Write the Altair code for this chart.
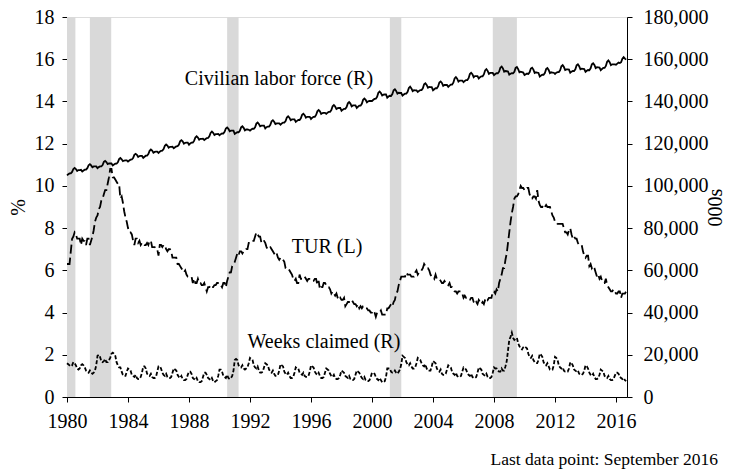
import altair as alt
import pandas as pd

FONT = "Liberation Serif"
START_YEAR = 1980

# Monthly values, Jan 1980 - Sep 2016 (one row per year)
tur_pct = [
    6.3, 6.3, 6.3, 6.9, 7.5, 7.6, 7.8, 7.7, 7.5, 7.5, 7.5, 7.2,
    7.5, 7.4, 7.4, 7.2, 7.5, 7.5, 7.2, 7.4, 7.6, 7.9, 8.3, 8.5,
    8.6, 8.9, 9.0, 9.3, 9.4, 9.6, 9.8, 9.8, 10.1, 10.4, 10.8, 10.8,
    10.4, 10.4, 10.3, 10.2, 10.1, 10.1, 9.4, 9.5, 9.2, 8.8, 8.5, 8.3,
    8.0, 7.8, 7.8, 7.7, 7.4, 7.2, 7.5, 7.5, 7.3, 7.4, 7.2, 7.3,
    7.3, 7.2, 7.2, 7.3, 7.2, 7.4, 7.4, 7.1, 7.1, 7.1, 7.0, 7.0,
    6.7, 7.2, 7.2, 7.1, 7.2, 7.2, 7.0, 6.9, 7.0, 7.0, 6.9, 6.6,
    6.6, 6.6, 6.6, 6.3, 6.3, 6.2, 6.1, 6.0, 5.9, 6.0, 5.8, 5.7,
    5.7, 5.7, 5.7, 5.4, 5.6, 5.4, 5.4, 5.6, 5.4, 5.4, 5.3, 5.3,
    5.4, 5.2, 5.0, 5.2, 5.2, 5.3, 5.2, 5.2, 5.3, 5.3, 5.4, 5.4,
    5.4, 5.3, 5.2, 5.4, 5.4, 5.2, 5.5, 5.7, 5.9, 5.9, 6.2, 6.3,
    6.4, 6.6, 6.8, 6.7, 6.9, 6.9, 6.8, 6.9, 6.9, 7.0, 7.0, 7.3,
    7.3, 7.4, 7.4, 7.4, 7.6, 7.8, 7.7, 7.6, 7.6, 7.3, 7.4, 7.4,
    7.3, 7.1, 7.0, 7.1, 7.1, 7.0, 6.9, 6.8, 6.7, 6.8, 6.6, 6.5,
    6.6, 6.6, 6.5, 6.4, 6.1, 6.1, 6.1, 6.0, 5.9, 5.8, 5.6, 5.5,
    5.6, 5.4, 5.4, 5.8, 5.6, 5.6, 5.7, 5.7, 5.6, 5.5, 5.6, 5.6,
    5.6, 5.5, 5.5, 5.6, 5.6, 5.3, 5.5, 5.1, 5.2, 5.2, 5.4, 5.4,
    5.3, 5.2, 5.2, 5.1, 4.9, 5.0, 4.9, 4.8, 4.9, 4.7, 4.6, 4.7,
    4.6, 4.6, 4.7, 4.3, 4.4, 4.5, 4.5, 4.5, 4.6, 4.5, 4.4, 4.4,
    4.3, 4.4, 4.2, 4.3, 4.2, 4.3, 4.3, 4.2, 4.2, 4.1, 4.1, 4.0,
    4.0, 4.1, 4.0, 3.8, 4.0, 4.0, 4.0, 4.1, 3.9, 3.9, 3.9, 3.9,
    4.2, 4.2, 4.3, 4.4, 4.3, 4.5, 4.6, 4.9, 5.0, 5.3, 5.5, 5.7,
    5.7, 5.7, 5.7, 5.9, 5.8, 5.8, 5.8, 5.7, 5.7, 5.7, 5.9, 6.0,
    5.8, 5.9, 5.9, 6.0, 6.1, 6.3, 6.2, 6.1, 6.1, 6.0, 5.8, 5.7,
    5.7, 5.6, 5.8, 5.6, 5.6, 5.6, 5.5, 5.4, 5.4, 5.5, 5.4, 5.4,
    5.3, 5.4, 5.2, 5.2, 5.1, 5.0, 5.0, 4.9, 5.0, 5.0, 5.0, 4.9,
    4.7, 4.8, 4.7, 4.7, 4.6, 4.6, 4.7, 4.7, 4.5, 4.4, 4.5, 4.4,
    4.6, 4.5, 4.4, 4.5, 4.4, 4.6, 4.7, 4.6, 4.7, 4.7, 4.7, 5.0,
    5.0, 4.9, 5.1, 5.0, 5.4, 5.6, 5.8, 6.1, 6.1, 6.5, 6.8, 7.3,
    7.8, 8.3, 8.7, 9.0, 9.4, 9.5, 9.5, 9.6, 9.8, 10.0, 9.9, 9.9,
    9.8, 9.8, 9.9, 9.9, 9.6, 9.4, 9.4, 9.5, 9.5, 9.4, 9.8, 9.3,
    9.1, 9.0, 9.0, 9.1, 9.0, 9.1, 9.0, 9.0, 9.0, 8.8, 8.6, 8.5,
    8.3, 8.3, 8.2, 8.2, 8.2, 8.2, 8.2, 8.0, 7.8, 7.8, 7.7, 7.9,
    8.0, 7.7, 7.5, 7.6, 7.5, 7.5, 7.3, 7.2, 7.2, 7.2, 6.9, 6.7,
    6.6, 6.7, 6.7, 6.2, 6.3, 6.1, 6.2, 6.1, 5.9, 5.7, 5.8, 5.6,
    5.7, 5.5, 5.4, 5.4, 5.6, 5.3, 5.2, 5.1, 5.0, 5.0, 5.1, 5.0,
    4.9, 4.9, 5.0, 5.0, 4.7, 4.9, 4.9, 4.9, 5.0,
]

# Civilian labor force, not seasonally adjusted, millions
labor_force_mn = [
    105.0, 105.5, 105.9, 105.9, 106.6, 108.0, 108.5, 108.0, 107.1, 107.5, 107.5, 107.6,
    106.8, 107.3, 107.7, 107.7, 108.4, 109.8, 110.3, 109.7, 108.8, 109.2, 109.2, 109.2,
    108.4, 108.9, 109.2, 109.2, 109.9, 111.4, 111.8, 111.3, 110.3, 110.6, 110.6, 110.6,
    109.7, 110.1, 110.5, 110.5, 111.2, 112.7, 113.2, 112.6, 111.7, 112.0, 112.1, 112.1,
    111.5, 112.0, 112.4, 112.5, 113.2, 114.7, 115.2, 114.7, 113.7, 114.1, 114.2, 114.2,
    113.3, 113.8, 114.3, 114.3, 115.1, 116.6, 117.2, 116.7, 115.7, 116.1, 116.2, 116.2,
    115.6, 116.2, 116.6, 116.7, 117.4, 119.0, 119.6, 119.1, 118.1, 118.5, 118.5, 118.6,
    117.8, 118.3, 118.7, 118.8, 119.5, 121.1, 121.6, 121.1, 120.0, 120.4, 120.5, 120.5,
    119.5, 120.1, 120.5, 120.5, 121.3, 122.9, 123.5, 122.9, 121.9, 122.3, 122.3, 122.4,
    121.7, 122.2, 122.6, 122.7, 123.5, 125.1, 125.7, 125.1, 124.1, 124.5, 124.5, 124.6,
    124.0, 124.5, 124.9, 124.8, 125.6, 127.2, 127.7, 127.0, 125.9, 126.2, 126.2, 126.2,
    124.6, 125.0, 125.4, 125.4, 126.1, 127.7, 128.2, 127.5, 126.3, 126.7, 126.7, 126.6,
    126.2, 126.7, 127.1, 127.0, 127.8, 129.5, 130.0, 129.3, 128.2, 128.5, 128.5, 128.5,
    127.2, 127.8, 128.1, 128.1, 128.9, 130.6, 131.1, 130.4, 129.3, 129.6, 129.6, 129.6,
    129.0, 129.6, 130.0, 130.0, 130.7, 132.4, 133.0, 132.3, 131.1, 131.5, 131.5, 131.5,
    130.3, 130.8, 131.2, 131.2, 132.0, 133.7, 134.2, 133.5, 132.3, 132.7, 132.7, 132.7,
    131.7, 132.3, 132.7, 132.7, 133.6, 135.3, 135.9, 135.3, 134.1, 134.5, 134.6, 134.6,
    134.1, 134.7, 135.1, 135.1, 135.9, 137.7, 138.3, 137.6, 136.4, 136.8, 136.9, 136.9,
    135.6, 136.1, 136.5, 136.5, 137.3, 139.1, 139.7, 139.0, 137.7, 138.1, 138.1, 138.1,
    136.9, 137.5, 138.0, 138.0, 138.9, 140.8, 141.4, 140.8, 139.6, 140.1, 140.2, 140.2,
    140.2, 140.8, 141.2, 141.3, 142.2, 144.1, 144.7, 144.0, 142.8, 143.2, 143.3, 143.3,
    141.8, 142.3, 142.7, 142.6, 143.5, 145.3, 145.8, 145.0, 143.7, 144.1, 144.0, 144.0,
    142.8, 143.3, 143.7, 143.7, 144.6, 146.4, 147.0, 146.2, 144.9, 145.3, 145.2, 145.2,
    144.5, 145.0, 145.4, 145.4, 146.2, 148.1, 148.6, 147.8, 146.5, 146.9, 146.8, 146.8,
    145.3, 145.8, 146.3, 146.2, 147.1, 149.0, 149.5, 148.8, 147.4, 147.8, 147.8, 147.8,
    146.9, 147.5, 148.0, 148.0, 148.9, 150.9, 151.5, 150.8, 149.4, 149.9, 149.9, 149.9,
    149.1, 149.7, 150.1, 150.1, 151.0, 153.0, 153.6, 152.9, 151.5, 152.0, 152.0, 152.0,
    150.9, 151.5, 151.9, 151.9, 152.8, 154.7, 155.3, 154.5, 153.1, 153.5, 153.5, 153.5,
    152.5, 153.0, 153.4, 153.3, 154.1, 156.0, 156.5, 155.6, 154.1, 154.4, 154.3, 154.2,
    152.7, 153.1, 153.4, 153.3, 154.0, 155.9, 156.3, 155.3, 153.8, 154.1, 153.9, 153.7,
    152.5, 152.9, 153.2, 153.0, 153.8, 155.6, 156.0, 155.1, 153.5, 153.8, 153.6, 153.5,
    151.8, 152.3, 152.7, 152.6, 153.4, 155.3, 155.8, 154.9, 153.4, 153.8, 153.7, 153.6,
    153.0, 153.6, 153.9, 153.9, 154.7, 156.7, 157.2, 156.3, 154.9, 155.2, 155.2, 155.1,
    153.6, 154.1, 154.5, 154.4, 155.2, 157.1, 157.6, 156.7, 155.2, 155.5, 155.4, 155.3,
    154.0, 154.5, 154.9, 154.8, 155.7, 157.6, 158.1, 157.3, 155.8, 156.2, 156.1, 156.0,
    154.8, 155.4, 155.9, 155.9, 156.8, 158.8, 159.4, 158.6, 157.2, 157.6, 157.6, 157.6,
    157.4, 157.9, 158.4, 158.2, 158.6, 160.3, 161.0, 160.3, 159.8,
]

# Weeks claimed, not seasonally adjusted, millions
weeks_claimed_mn = [
    16.0, 15.5, 15.0, 14.5, 15.0, 16.5, 16.0, 15.0, 13.5, 13.0, 13.5, 15.0,
    15.5, 15.0, 14.0, 12.5, 12.0, 11.5, 12.5, 11.5, 11.0, 11.5, 12.5, 15.0,
    19.5, 20.0, 19.0, 17.0, 16.5, 17.0, 18.0, 16.5, 16.5, 17.5, 18.5, 20.5,
    21.0, 20.5, 19.5, 16.5, 15.0, 14.0, 14.0, 12.0, 10.5, 10.0, 10.0, 12.0,
    13.5, 13.0, 12.5, 10.5, 10.0, 9.5, 10.5, 9.0, 8.5, 8.5, 9.5, 11.5,
    14.5, 14.5, 13.5, 11.0, 10.5, 10.0, 11.0, 9.5, 9.0, 9.0, 9.5, 12.0,
    14.5, 14.5, 13.5, 11.5, 10.5, 10.0, 11.0, 9.5, 9.0, 9.0, 9.5, 11.5,
    13.5, 13.0, 12.5, 10.5, 9.5, 9.0, 10.0, 8.5, 8.0, 8.0, 8.5, 10.5,
    12.0, 12.0, 11.0, 9.0, 8.5, 8.0, 9.0, 7.5, 7.0, 7.0, 7.5, 9.5,
    11.5, 11.5, 10.5, 9.0, 8.5, 8.0, 9.0, 7.5, 7.0, 7.5, 8.0, 10.0,
    13.0, 13.0, 12.0, 10.0, 9.5, 9.0, 10.5, 9.0, 8.5, 9.0, 10.0, 12.5,
    17.5, 18.0, 17.5, 15.0, 14.5, 14.0, 15.0, 13.5, 13.0, 13.5, 14.0, 16.0,
    18.5, 18.0, 17.5, 15.0, 14.0, 13.5, 14.5, 12.5, 11.5, 11.5, 12.0, 14.0,
    16.0, 15.5, 15.0, 13.0, 12.0, 11.5, 12.5, 11.0, 10.0, 10.0, 10.5, 12.5,
    15.5, 15.0, 14.5, 12.0, 11.0, 10.5, 11.5, 10.0, 9.0, 9.0, 9.5, 11.5,
    14.0, 13.5, 13.5, 11.5, 11.0, 10.5, 11.5, 10.0, 9.5, 9.5, 10.0, 12.0,
    15.0, 14.5, 14.0, 12.0, 11.0, 10.5, 11.5, 10.0, 9.0, 9.0, 9.5, 11.5,
    13.5, 13.0, 12.5, 11.0, 10.0, 9.5, 10.5, 9.0, 8.5, 8.5, 9.0, 10.5,
    12.5, 12.0, 11.5, 10.0, 9.5, 9.0, 10.0, 8.5, 8.0, 8.0, 8.5, 10.5,
    12.5, 12.0, 11.5, 10.0, 9.0, 8.5, 9.5, 8.0, 7.5, 7.5, 8.0, 9.5,
    11.5, 11.5, 11.0, 9.5, 8.5, 8.0, 9.0, 8.0, 7.0, 7.0, 7.5, 9.5,
    13.5, 13.5, 13.5, 12.0, 11.5, 11.5, 12.5, 11.5, 11.0, 12.0, 13.0, 15.5,
    19.5, 19.0, 18.5, 16.5, 15.5, 15.0, 16.0, 14.5, 13.5, 13.5, 14.0, 16.0,
    18.5, 18.0, 17.5, 16.0, 15.0, 14.5, 15.5, 13.5, 12.5, 12.5, 12.5, 14.5,
    17.0, 16.5, 16.0, 13.5, 12.5, 12.0, 13.0, 11.0, 10.5, 10.5, 11.0, 13.0,
    15.0, 14.5, 14.0, 12.0, 11.0, 10.5, 11.5, 10.0, 9.5, 9.5, 10.0, 12.0,
    14.0, 13.5, 13.0, 11.5, 10.5, 10.0, 11.0, 9.5, 9.0, 9.0, 9.5, 11.5,
    14.0, 13.5, 13.0, 11.0, 10.5, 10.0, 11.0, 9.5, 9.0, 9.0, 9.5, 11.5,
    14.0, 13.5, 13.5, 12.5, 12.0, 12.0, 13.5, 12.5, 12.5, 14.5, 17.0, 22.0,
    27.0, 28.5, 30.5, 28.0, 27.0, 27.5, 28.0, 25.5, 24.0, 23.0, 22.5, 23.5,
    24.0, 23.5, 23.0, 20.5, 19.0, 18.5, 19.5, 17.5, 16.5, 16.0, 16.0, 17.5,
    20.5, 20.0, 19.0, 16.5, 15.5, 15.0, 16.0, 14.5, 13.0, 13.0, 13.0, 15.0,
    19.0, 18.5, 17.5, 15.0, 14.0, 13.5, 14.0, 12.5, 12.0, 12.0, 12.0, 13.5,
    16.5, 16.0, 15.0, 13.0, 12.5, 12.0, 12.5, 11.0, 10.5, 10.5, 11.0, 12.5,
    15.0, 14.5, 13.5, 11.5, 10.5, 10.0, 11.0, 9.5, 8.5, 8.5, 9.0, 10.5,
    13.0, 12.5, 12.0, 10.0, 9.5, 9.0, 10.0, 8.5, 8.0, 8.0, 8.5, 10.0,
    11.5, 11.5, 11.0, 9.5, 9.0, 8.5, 9.0, 8.0, 7.5,
]

recession_start = [1980.0, 1981.5, 1990.5, 2001.17, 2007.92]
recession_end = [1980.55, 1982.9, 1991.25, 2001.92, 2009.5]

label_text = ["Civilian labor force (R)", "TUR (L)", "Weeks claimed (R)"]
label_year = [1993.9, 1997.05, 1996.85]
label_pct = [15.05, 7.1, 2.6]

n = len(tur_pct)
t = [START_YEAR + i / 12 for i in range(n)]

df_left = pd.DataFrame({"t": t, "tur": tur_pct})
df_right = pd.DataFrame({
    "t": t,
    "labor": [v * 1000 for v in labor_force_mn],
    "weeks": [v * 1000 for v in weeks_claimed_mn],
})
df_rec = pd.DataFrame({"start": recession_start, "end": recession_end})
df_lab = pd.DataFrame({"t": label_year, "y": label_pct, "text": label_text})

XDOM = [1980, 2016.72]
x_scale = alt.Scale(domain=XDOM, nice=False, zero=False)
x_axis = alt.Axis(values=list(range(1980, 2017, 4)), format="d", title=None,
                  tickSize=5, labelPadding=9, labelFlush=False, labelOverlap=False,
                  domainColor="black", tickColor="black", labelColor="black",
                  labelFont=FONT, labelFontSize=20, grid=False)
x_enc = alt.X("t:Q", scale=x_scale, axis=x_axis)

left_scale = alt.Scale(domain=[0, 18], nice=False)
right_scale = alt.Scale(domain=[0, 180000], nice=False)

bands = alt.Chart(df_rec).mark_rect(color="#d9d9d9").encode(
    x=alt.X("start:Q", scale=x_scale, axis=x_axis),
    x2="end:Q",
)

left_axis = alt.Axis(values=list(range(0, 19, 2)), title="%", tickSize=5,
                     labelPadding=8, domainColor="black", tickColor="black",
                     labelColor="black", labelFont=FONT, labelFontSize=20,
                     titleFont=FONT, titleFontSize=20, titleFontWeight="normal",
                     titleColor="black", titlePadding=6, grid=False)

tur_line = alt.Chart(df_left).mark_line(color="black", strokeWidth=1.8,
                                        strokeDash=[9, 4]).encode(
    x=x_enc,
    y=alt.Y("tur:Q", scale=left_scale, axis=left_axis),
)

labels = alt.Chart(df_lab).mark_text(font=FONT, fontSize=20, color="black",
                                     align="center", baseline="middle").encode(
    x=alt.X("t:Q", scale=x_scale, axis=x_axis),
    y=alt.Y("y:Q", scale=left_scale, axis=left_axis),
    text="text:N",
)

left = alt.layer(bands, tur_line, labels)

right_axis = alt.Axis(values=list(range(0, 180001, 20000)), format=",d", title="000s",
                      orient="right", tickSize=5, labelPadding=11, domainColor="black",
                      tickColor="black", labelColor="black", labelFont=FONT,
                      labelFontSize=20, titleFont=FONT, titleFontSize=20,
                      titleFontWeight="normal", titleColor="black", titleAngle=270,
                      titleBaseline="top", titlePadding=-3, grid=False)

labor_line = alt.Chart(df_right).mark_line(color="black", strokeWidth=1.8).encode(
    x=x_enc,
    y=alt.Y("labor:Q", scale=right_scale, axis=right_axis),
)
weeks_line = alt.Chart(df_right).mark_line(color="black", strokeWidth=1.8,
                                           strokeDash=[4, 2]).encode(
    x=x_enc,
    y=alt.Y("weeks:Q", scale=right_scale, axis=right_axis),
)
right = alt.layer(labor_line, weeks_line)

chart = alt.layer(left, right).resolve_scale(y="independent").properties(
    width=560,
    height=380,
    autosize=alt.AutoSizeParams(type="none"),
    padding={"left": 59, "top": 9, "right": 100, "bottom": 72},
    title=alt.TitleParams(text="Last data point: September  2016", orient="bottom",
                          anchor="end", frame="group", dx=91, offset=20,
                          font=FONT, fontSize=17.5, fontWeight="normal",
                          color="black"),
).configure_view(stroke=None).configure(background="white")

chart.save("out.html", embed_options={"renderer": "svg", "actions": False})
